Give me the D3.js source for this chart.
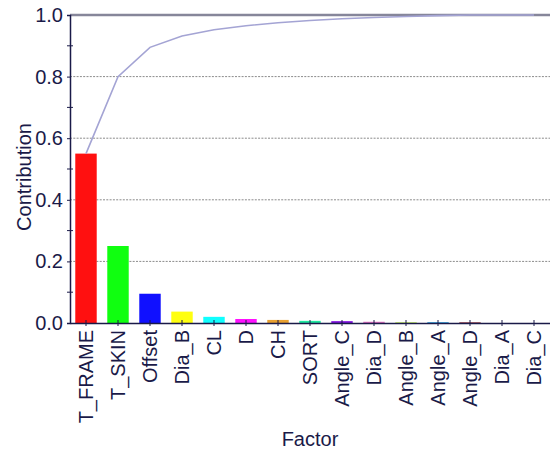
<!DOCTYPE html>
<html>
<head>
<meta charset="utf-8">
<script src="https://cdn.jsdelivr.net/npm/d3@7"></script>
<style>
  html, body { margin: 0; padding: 0; background: #fff; }
  svg { display: block; }
  text { font-family: "Liberation Sans", Arial, sans-serif; fill: #1a1a48; }
</style>
</head>
<body>
<svg id="chart" width="550" height="451"></svg>
<script>
// Factor contributions (Pareto view)
const factors = ["T_FRAME", "T_SKIN", "Offset", "Dia_B", "CL", "D", "CH", "SORT",
                 "Angle_C", "Dia_D", "Angle_B", "Angle_A", "Angle_D", "Dia_A", "Dia_C"];
const contribution = [0.55, 0.25, 0.095, 0.037, 0.02, 0.013, 0.01, 0.007,
                      0.006, 0.004, 0.003, 0.003, 0.002, 0.0, 0.0];
const barColors = ["#ff1010", "#10ff10", "#1010ff", "#ffff10", "#10ffff", "#ff10ff", "#e8a030", "#20e8a0",
                   "#8010e0", "#e070c0", "#c8f070", "#40a8e0", "#801018", "#1a1a48", "#1a1a48"];
const yTickValues = [0.0, 0.2, 0.4, 0.6, 0.8, 1.0];
const yMinorTicks = [0.1, 0.3, 0.5, 0.7, 0.9];

const svg = d3.select("#chart");
const plotLeft = 70, plotRight = 550, plotTop = 15, plotBottom = 323;
const axisColor = "#1a1a48";

const x = d3.scaleBand().domain(factors).range([plotLeft, plotRight])
  .paddingInner(0.33).paddingOuter(0.165);
const y = d3.scaleLinear().domain([0, 1]).range([plotBottom, plotTop]);

// dotted gridlines
svg.append("g").selectAll("line")
  .data(yTickValues.filter(v => v > 0 && v < 1))
  .join("line")
  .attr("x1", plotLeft).attr("x2", plotRight)
  .attr("y1", d => y(d)).attr("y2", d => y(d))
  .attr("stroke", "#8a8a8a").attr("stroke-width", 1)
  .attr("stroke-dasharray", "2,1.3");

// bars
svg.append("g").selectAll("rect")
  .data(factors)
  .join("rect")
  .attr("x", d => x(d))
  .attr("width", x.bandwidth())
  .attr("y", (d, i) => y(contribution[i]))
  .attr("height", (d, i) => plotBottom - y(contribution[i]))
  .attr("fill", (d, i) => barColors[i]);

// frame line at 1.0
svg.append("line")
  .attr("x1", plotLeft).attr("x2", plotRight)
  .attr("y1", y(1)).attr("y2", y(1))
  .attr("stroke", "#86869a").attr("stroke-width", 2.5);

// cumulative contribution line
const cumulative = Array.from(d3.cumsum(contribution));
const line = d3.line()
  .x((d, i) => x(factors[i]) + x.bandwidth() / 2)
  .y(d => y(Math.min(d, 1)));
svg.append("path")
  .datum(cumulative)
  .attr("d", line)
  .attr("fill", "none")
  .attr("stroke", "#a4a4d4")
  .attr("stroke-width", 1.6);

// y axis
const yAxis = d3.axisLeft(y)
  .tickValues(yTickValues)
  .tickFormat(d3.format(".1f"))
  .tickSize(3)
  .tickPadding(4);
const gy = svg.append("g").attr("transform", `translate(${plotLeft},0)`).call(yAxis);
gy.select(".domain").attr("stroke", axisColor).attr("stroke-width", 1.5);
gy.selectAll(".tick line").attr("stroke", axisColor);
gy.selectAll(".tick text").attr("font-size", 20).attr("fill", axisColor)
  .style("font-family", "'Liberation Sans', Arial, sans-serif");
gy.selectAll(".minor").data(yMinorTicks).join("line")
  .attr("class", "minor")
  .attr("x1", -3).attr("x2", 3)
  .attr("y1", d => y(d)).attr("y2", d => y(d))
  .attr("stroke", axisColor);

// x axis
const xAxis = d3.axisBottom(x).tickSize(3).tickSizeOuter(0);
const gx = svg.append("g").attr("transform", `translate(0,${plotBottom})`).call(xAxis);
gx.select(".domain").attr("stroke", axisColor).attr("stroke-width", 1.5);
gx.selectAll(".tick line").attr("stroke", axisColor).attr("y1", -3).attr("y2", 3);
gx.selectAll(".tick text")
  .attr("font-size", 20).attr("fill", axisColor)
  .style("font-family", "'Liberation Sans', Arial, sans-serif")
  .attr("text-anchor", "end")
  .attr("transform", "rotate(-90)")
  .attr("x", -7).attr("y", 0).attr("dy", "0.36em");

// axis titles
svg.append("text")
  .attr("transform", `translate(31,${(plotTop + plotBottom) / 2 + 8}) rotate(-90)`)
  .attr("text-anchor", "middle")
  .attr("font-size", 20)
  .text("Contribution");
svg.append("text")
  .attr("x", 310).attr("y", 446)
  .attr("text-anchor", "middle")
  .attr("font-size", 20)
  .text("Factor");
</script>
</body>
</html>
